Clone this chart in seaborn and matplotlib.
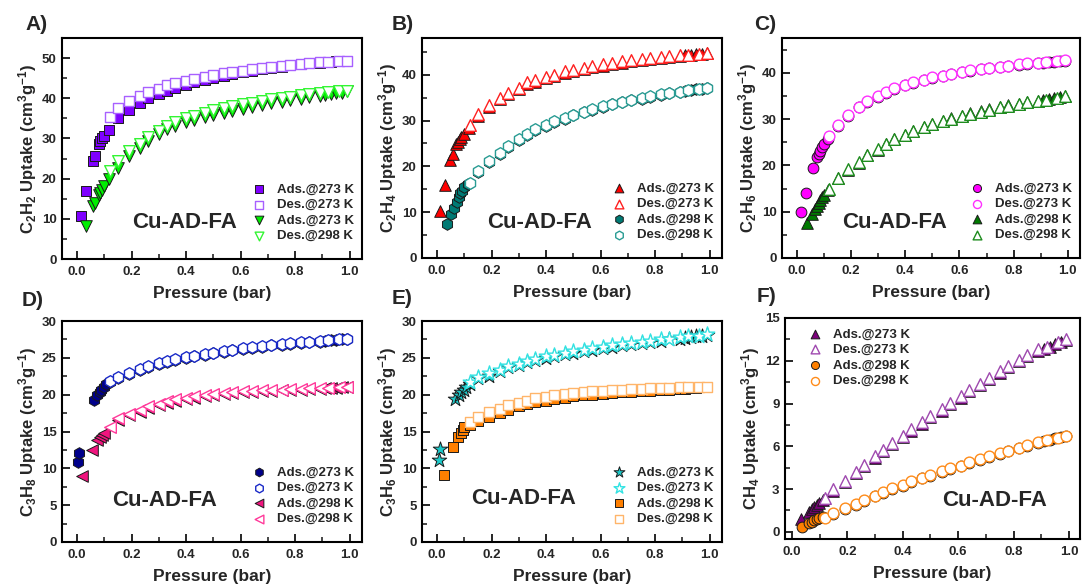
import matplotlib
matplotlib.use("Agg")
import matplotlib.pyplot as plt
import seaborn as sns
from matplotlib.ticker import MultipleLocator

# ---------------- data ----------------
P_MAIN = [0.15, 0.19, 0.23, 0.26, 0.30, 0.33, 0.36, 0.40, 0.43, 0.47, 0.50, 0.54, 0.57, 0.61,
          0.64, 0.68, 0.71, 0.75, 0.78, 0.82, 0.85, 0.89, 0.91, 0.93, 0.95, 0.97, 0.99]
P_DES = [0.12, 0.15, 0.19, 0.23, 0.26, 0.30, 0.33, 0.36, 0.40, 0.43, 0.47, 0.50, 0.54, 0.57,
         0.61, 0.64, 0.68, 0.71, 0.75, 0.78, 0.82, 0.85, 0.89, 0.92, 0.96, 0.99]

# A) C2H2
A_P1_LOW = [0.016, 0.032, 0.059, 0.065, 0.081, 0.086, 0.093, 0.10, 0.117]
A_ADS1 = [10.6, 16.8, 24.3, 25.6, 28.5, 29.3, 30.2, 30.6, 32.2,
          35.0, 37.2, 38.8, 40.0, 41.0, 41.8, 42.6, 43.3, 44.0, 44.6, 45.1, 45.6, 46.0, 46.5,
          46.9, 47.3, 47.6, 47.9, 48.2, 48.5, 48.7, 48.9, 49.0, 49.1, 49.2, 49.3, 49.4]
A_DES1 = [35.3, 37.6, 39.3, 40.5, 41.5, 42.4, 43.2, 43.8, 44.4, 44.9, 45.4, 45.8, 46.2, 46.6,
          46.9, 47.3, 47.6, 47.9, 48.1, 48.4, 48.6, 48.8, 49.0, 49.1, 49.2, 49.4]
A_P2_LOW = [0.032, 0.059, 0.065, 0.081, 0.086, 0.093, 0.10, 0.117]
A_ADS2 = [8.1, 13.1, 13.9, 16.0, 16.4, 17.2, 18.1, 19.8,
          22.7, 25.6, 27.7, 29.4, 31.0, 32.3, 33.2, 34.0, 34.7, 35.3, 35.9, 36.4, 36.9, 37.4,
          37.9, 38.3, 38.7, 39.1, 39.5, 39.9, 40.2, 40.6, 40.8, 41.0, 41.2, 41.4, 41.7]
A_DES2 = [21.8, 24.5, 27.0, 28.7, 30.3, 31.8, 33.0, 34.0, 35.0, 35.7, 36.4, 37.0, 37.5, 38.0,
          38.5, 38.9, 39.3, 39.7, 40.0, 40.4, 40.7, 41.0, 41.3, 41.5, 41.7, 41.9]
A_LABELS = ["Ads.@273 K", "Des.@273 K", "Ads.@273 K", "Des.@298 K"]

# B) C2H4
B_P1_LOW = [0.01, 0.028, 0.049, 0.059, 0.068, 0.077, 0.083, 0.089, 0.10, 0.117]
B_ADS1 = [10.3, 15.9, 21.3, 22.7, 24.8, 25.4, 25.9, 26.4, 27.0, 28.4,
          31.0, 33.0, 34.6, 35.8, 36.9, 37.9, 38.5, 39.2, 39.7, 40.3, 40.7, 41.2, 41.6, 42.0,
          42.3, 42.6, 42.9, 43.2, 43.4, 43.7, 43.9, 44.1, 44.3, 44.4, 44.5, 44.6, 44.7]
B_DES1 = [29.0, 31.4, 33.4, 35.0, 36.1, 37.2, 38.3, 38.8, 39.6, 40.0, 40.7, 41.0, 41.5, 41.9,
          42.3, 42.6, 42.9, 43.2, 43.5, 43.7, 43.9, 44.1, 44.3, 44.4, 44.6, 44.8]
B_P2_LOW = [0.037, 0.053, 0.061, 0.073, 0.081, 0.086, 0.093, 0.10, 0.114]
B_ADS2 = [7.5, 9.7, 11.0, 12.2, 13.3, 14.2, 14.6, 15.5, 16.2,
          18.8, 20.9, 22.8, 24.3, 25.7, 26.9, 27.9, 28.8, 29.6, 30.4, 31.1, 31.8, 32.4, 33.0,
          33.5, 34.0, 34.4, 34.8, 35.2, 35.6, 35.9, 36.2, 36.4, 36.6, 36.8, 36.9, 37.1]
B_DES2 = [16.4, 19.0, 21.1, 23.0, 24.5, 25.9, 27.1, 28.1, 29.0, 29.8, 30.6, 31.3, 31.9, 32.5,
          33.1, 33.6, 34.1, 34.5, 34.9, 35.3, 35.7, 36.0, 36.3, 36.6, 36.9, 37.1]
B_LABELS = ["Ads.@273 K", "Des.@273 K", "Ads.@298 K", "Des.@298 K"]

# C) C2H6
C_P1_LOW = [0.016, 0.032, 0.059, 0.073, 0.081, 0.086, 0.093, 0.10, 0.114]
C_ADS1 = [10.0, 14.1, 19.4, 21.9, 22.4, 23.2, 23.9, 24.6, 25.8,
          28.5, 30.6, 32.5, 33.7, 34.8, 35.7, 36.4, 37.3, 37.8, 38.4, 38.9, 39.3, 39.7, 40.1,
          40.4, 40.7, 41.0, 41.2, 41.4, 41.7, 41.9, 42.1, 42.2, 42.3, 42.4, 42.5, 42.6]
C_DES1 = [26.3, 28.7, 30.8, 32.7, 33.9, 35.0, 35.9, 36.6, 37.4, 37.9, 38.5, 39.0, 39.4, 39.8,
          40.2, 40.5, 40.8, 41.1, 41.3, 41.5, 41.8, 42.0, 42.2, 42.4, 42.5, 42.7]
C_P2_LOW = [0.037, 0.056, 0.065, 0.073, 0.081, 0.086, 0.093, 0.10, 0.114]
C_ADS2 = [7.6, 9.6, 10.5, 11.2, 11.9, 12.5, 13.1, 13.6, 14.7,
          17.2, 19.1, 20.6, 22.2, 23.3, 24.6, 25.6, 26.5, 27.5, 28.2, 28.9, 29.6, 30.2, 30.7,
          31.2, 31.7, 32.1, 32.6, 33.0, 33.3, 33.7, 34.0, 34.2, 34.4, 34.6, 34.8, 35.0]
C_DES2 = [15.0, 17.3, 19.3, 20.8, 22.3, 23.5, 24.7, 25.7, 26.6, 27.5, 28.2, 28.9, 29.5, 30.1,
          30.6, 31.1, 31.6, 32.0, 32.5, 32.9, 33.2, 33.6, 33.9, 34.2, 34.5, 34.9]
C_LABELS = ["Ads.@273 K", "Des.@273 K", "Ads.@298 K", "Des.@298 K"]

# D) C3H8
D_P1_LOW = [0.004, 0.006, 0.061, 0.073, 0.083, 0.088, 0.098, 0.107, 0.12]
D_ADS1 = [10.9, 12.1, 19.3, 19.9, 20.4, 20.7, 21.1, 21.4, 21.7,
          22.2, 22.8, 23.3, 23.8, 24.1, 24.4, 24.7, 25.0, 25.2, 25.4, 25.6, 25.8, 26.0, 26.2,
          26.4, 26.5, 26.7, 26.8, 26.9, 27.0, 27.1, 27.2, 27.3, 27.4, 27.45, 27.5, 27.6]
D_DES1 = [21.9, 22.4, 23.0, 23.5, 23.9, 24.3, 24.6, 24.9, 25.1, 25.3, 25.5, 25.7, 25.9, 26.1,
          26.3, 26.5, 26.6, 26.8, 26.9, 27.0, 27.1, 27.2, 27.3, 27.4, 27.5, 27.6]
D_P2_LOW = [0.018, 0.055, 0.073, 0.083, 0.092, 0.10]
D_ADS2 = [9.0, 12.5, 13.8, 14.2, 14.5, 14.8,
          16.6, 17.2, 17.7, 18.2, 18.6, 18.9, 19.2, 19.4, 19.6, 19.8, 20.0, 20.1, 20.2, 20.3,
          20.4, 20.5, 20.55, 20.6, 20.65, 20.7, 20.75, 20.8, 20.85, 20.9, 20.95, 21.0, 21.0]
D_DES2 = [15.6, 16.8, 17.4, 17.9, 18.4, 18.8, 19.1, 19.4, 19.6, 19.8, 20.0, 20.1, 20.25, 20.35,
          20.45, 20.55, 20.6, 20.65, 20.7, 20.75, 20.8, 20.85, 20.9, 20.95, 21.0, 21.1]
D_LABELS = ["Ads.@273 K", "Des.@273 K", "Ads.@298 K", "Des.@298 K"]

# E) C3H6
E_P1_LOW = [0.006, 0.01, 0.067, 0.079, 0.088, 0.098, 0.107, 0.12]
E_ADS1 = [11.1, 12.6, 19.4, 19.9, 20.4, 20.7, 21.1, 21.5,
          22.2, 22.6, 23.2, 23.7, 24.0, 24.4, 24.7, 25.0, 25.2, 25.5, 25.7, 25.9, 26.1, 26.3,
          26.5, 26.7, 26.9, 27.0, 27.2, 27.3, 27.5, 27.6, 27.7, 27.8, 27.9, 28.0, 28.1]
E_DES1 = [21.7, 22.4, 22.9, 23.4, 23.9, 24.2, 24.6, 24.9, 25.2, 25.4, 25.7, 25.9, 26.1, 26.3,
          26.5, 26.7, 26.9, 27.0, 27.2, 27.3, 27.5, 27.6, 27.8, 27.9, 28.0, 28.2]
E_P2_LOW = [0.024, 0.059, 0.077, 0.088, 0.095, 0.10, 0.12]
E_ADS2 = [9.1, 12.9, 14.3, 14.8, 15.2, 15.6, 15.9,
          16.4, 17.0, 17.5, 17.9, 18.4, 18.7, 19.0, 19.2, 19.4, 19.6, 19.8, 19.9, 20.0, 20.1,
          20.2, 20.3, 20.4, 20.5, 20.55, 20.6, 20.7, 20.75, 20.8, 20.85, 20.9, 21.0, 21.0]
E_DES2 = [16.3, 17.0, 17.6, 18.1, 18.6, 18.9, 19.2, 19.5, 19.7, 19.9, 20.1, 20.2, 20.35, 20.45,
          20.55, 20.6, 20.7, 20.75, 20.8, 20.85, 20.9, 20.95, 21.0, 21.0, 21.05, 21.1]
E_LABELS = ["Ads.@273 K", "Des.@273 K", "Ads.@298 K", "Des.@298 K"]

# F) CH4
F_P1_LOW = [0.032, 0.063, 0.072, 0.08, 0.09, 0.099, 0.111]
F_ADS1 = [0.89, 1.42, 1.59, 1.73, 1.89, 2.0, 2.24,
          2.9, 3.5, 4.1, 4.65, 5.2, 5.65, 6.15, 6.65, 7.1, 7.6, 8.05, 8.5, 8.95, 9.4,
          9.85, 10.3, 10.7, 11.15, 11.55, 11.95, 12.3, 12.7, 12.85, 13.0, 13.15, 13.3, 13.45]
F_DES1 = [2.35, 3.0, 3.6, 4.2, 4.7, 5.3, 5.75, 6.25, 6.75, 7.2, 7.7, 8.15, 8.6, 9.05,
          9.5, 9.95, 10.4, 10.8, 11.25, 11.65, 12.05, 12.4, 12.8, 13.0, 13.3, 13.5]
F_P2_LOW = [0.036, 0.06, 0.072, 0.081, 0.09, 0.099, 0.111]
F_ADS2 = [0.37, 0.61, 0.72, 0.84, 0.89, 0.96, 1.03,
          1.25, 1.6, 1.9, 2.2, 2.5, 2.75, 3.0, 3.25, 3.5, 3.75, 3.95, 4.2, 4.4, 4.6,
          4.85, 5.05, 5.25, 5.45, 5.65, 5.85, 6.05, 6.25, 6.35, 6.45, 6.55, 6.62, 6.7]
F_DES2 = [0.95, 1.3, 1.65, 1.95, 2.25, 2.55, 2.8, 3.05, 3.3, 3.55, 3.8, 4.0, 4.25, 4.45,
          4.65, 4.9, 5.1, 5.3, 5.5, 5.7, 5.9, 6.1, 6.3, 6.45, 6.6, 6.72]
F_LABELS = ["Ads.@273 K", "Des.@273 K", "Ads.@298 K", "Des.@298 K"]

YLABELS = ["C$_2$H$_2$ Uptake (cm$^3$g$^{-1}$)", "C$_2$H$_4$ Uptake (cm$^3$g$^{-1}$)",
           "C$_2$H$_6$ Uptake (cm$^3$g$^{-1}$)", "C$_3$H$_8$ Uptake (cm$^3$g$^{-1}$)",
           "C$_3$H$_6$ Uptake (cm$^3$g$^{-1}$)", "CH$_4$ Uptake (cm$^3$g$^{-1}$)"]
PANEL_LETTERS = ["A)", "B)", "C)", "D)", "E)", "F)"]
XLABEL = "Pressure (bar)"
MATERIAL = "Cu-AD-FA"

# ---------------- style ----------------
sns.set_style("ticks")
plt.rcParams.update({
    "font.family": ["Liberation Sans", "DejaVu Sans"],
    "font.weight": "bold",
    "axes.labelweight": "bold",
    "mathtext.default": "regular",
    "axes.linewidth": 1.5,
    "xtick.direction": "in",
    "ytick.direction": "in",
    "xtick.major.size": 6,
    "ytick.major.size": 6,
    "xtick.minor.size": 3.5,
    "ytick.minor.size": 3.5,
    "xtick.major.width": 1.4,
    "ytick.major.width": 1.4,
    "xtick.minor.width": 1.2,
    "ytick.minor.width": 1.2,
    "xtick.labelsize": 9.5,
    "ytick.labelsize": 9.5,
    "xtick.major.pad": 5,
    "ytick.major.pad": 4,
})

W, H = 1082, 586
fig = plt.figure(figsize=(W / 100, H / 100), dpi=100)


def rect(l, t, r, b):
    return [l / W, (H - b) / H, (r - l) / W, (b - t) / H]


axes = [
    fig.add_axes(rect(62, 38, 362, 259)),
    fig.add_axes(rect(422, 38, 722, 258)),
    fig.add_axes(rect(782, 38, 1080, 258)),
    fig.add_axes(rect(62, 321, 362, 542)),
    fig.add_axes(rect(422, 321, 722, 542)),
    fig.add_axes(rect(785, 318, 1080, 539)),
]

EDGE = "#1a1a1a"


def series(ax, x, y, marker, color, filled, label, size, edge=None):
    if filled:
        sns.scatterplot(x=x, y=y, ax=ax, marker=marker, s=size, color=color,
                        edgecolor=EDGE, linewidth=0.7, label=label, zorder=3)
    else:
        sns.scatterplot(x=x, y=y, ax=ax, marker=marker, s=size, color="white",
                        edgecolor=edge or color, linewidth=1.0, label=label, zorder=4)


panels = [
    dict(p1=A_P1_LOW, a1=A_ADS1, d1=A_DES1, p2=A_P2_LOW, a2=A_ADS2, d2=A_DES2, labels=A_LABELS,
         m1="s", c1="#7F00FF", e1="#A860FF", s1=50, m2="v", c2="#00EE00", e2="#33F533", s2=70,
         ylim=(0, 55), ymaj=10, ymin=5, xlim=(-0.055, 1.045), txt=(0.41, 0.165),
         loc="lower right"),
    dict(p1=B_P1_LOW, a1=B_ADS1, d1=B_DES1, p2=B_P2_LOW, a2=B_ADS2, d2=B_DES2, labels=B_LABELS,
         m1="^", c1="#FF0000", e1="#FF2020", s1=70, m2="h", c2="#007A74", e2="#2A9C94", s2=70,
         ylim=(0, 48), ymaj=10, ymin=5, xlim=(-0.055, 1.045), txt=(0.393, 0.16),
         loc="lower right"),
    dict(p1=C_P1_LOW, a1=C_ADS1, d1=C_DES1, p2=C_P2_LOW, a2=C_ADS2, d2=C_DES2, labels=C_LABELS,
         m1="o", c1="#FF00FF", e1="#FF30FF", s1=60, m2="^", c2="#007A00", e2="#1E8C1E", s2=70,
         ylim=(0, 47.5), ymaj=10, ymin=5, xlim=(-0.055, 1.045), txt=(0.377, 0.16),
         loc="lower right"),
    dict(p1=D_P1_LOW, a1=D_ADS1, d1=D_DES1, p2=D_P2_LOW, a2=D_ADS2, d2=D_DES2, labels=D_LABELS,
         m1="h", c1="#00008B", e1="#1A2AC8", s1=70, m2="<", c2="#F0147E", e2="#FF3A9A", s2=70,
         ylim=(0, 30), ymaj=5, ymin=2.5, xlim=(-0.055, 1.045), txt=(0.343, 0.19),
         loc="lower right"),
    dict(p1=E_P1_LOW, a1=E_ADS1, d1=E_DES1, p2=E_P2_LOW, a2=E_ADS2, d2=E_DES2, labels=E_LABELS,
         m1="*", c1="#1CC9C9", e1="#33E3E3", s1=120, m2="s", c2="#FF7F00", e2="#FFB56A", s2=50,
         ylim=(0, 30), ymaj=5, ymin=2.5, xlim=(-0.055, 1.045), txt=(0.34, 0.195),
         loc="lower right"),
    dict(p1=F_P1_LOW, a1=F_ADS1, d1=F_DES1, p2=F_P2_LOW, a2=F_ADS2, d2=F_DES2, labels=F_LABELS,
         m1="^", c1="#7B007B", e1="#A04AB0", s1=70, m2="o", c2="#FF8000", e2="#FF8C1A", s2=60,
         ylim=(-0.5, 15), ymaj=3, ymin=1.5, xlim=(-0.025, 1.04), txt=(0.71, 0.172),
         loc="upper left"),
]

for i, (ax, pd_) in enumerate(zip(axes, panels)):
    lab = pd_["labels"]
    series(ax, pd_["p1"] + P_MAIN, pd_["a1"], pd_["m1"], pd_["c1"], True, lab[0], pd_["s1"])
    series(ax, P_DES, pd_["d1"], pd_["m1"], pd_["c1"], False, lab[1], pd_["s1"], pd_["e1"])
    series(ax, pd_["p2"] + P_MAIN, pd_["a2"], pd_["m2"], pd_["c2"], True, lab[2], pd_["s2"])
    series(ax, P_DES, pd_["d2"], pd_["m2"], pd_["c2"], False, lab[3], pd_["s2"], pd_["e2"])

    ax.set_xlim(*pd_["xlim"])
    ax.set_ylim(*pd_["ylim"])
    ax.xaxis.set_major_locator(MultipleLocator(0.2))
    ax.xaxis.set_minor_locator(MultipleLocator(0.1))
    ax.yaxis.set_major_locator(MultipleLocator(pd_["ymaj"]))
    ax.yaxis.set_minor_locator(MultipleLocator(pd_["ymin"]))
    ax.tick_params(which="both", top=False, right=False)
    ax.set_xticks([0.0, 0.2, 0.4, 0.6, 0.8, 1.0])
    ax.set_xticklabels(["0.0", "0.2", "0.4", "0.6", "0.8", "1.0"])
    for sp in ax.spines.values():
        sp.set_visible(True)
        sp.set_linewidth(1.5)
        sp.set_color("black")

    ax.set_xlabel(XLABEL, fontsize=12.5, fontweight="bold", labelpad=6)
    ax.set_ylabel(YLABELS[i], fontsize=12, fontweight="bold", labelpad=2)
    ax.text(pd_["txt"][0], pd_["txt"][1], MATERIAL, transform=ax.transAxes, fontsize=16,
            fontweight="bold", ha="center", va="center")

    if pd_["loc"] == "upper left":
        ax.legend(loc="upper left", bbox_to_anchor=(0.03, 0.99), frameon=False,
                  prop={"weight": "bold", "size": 9.5}, markerscale=0.75,
                  handletextpad=0.4, labelspacing=0.25, borderaxespad=0.2)
    else:
        ax.legend(loc="lower right", bbox_to_anchor=(1.0, 0.04), frameon=False,
                  prop={"weight": "bold", "size": 9.5}, markerscale=0.75,
                  handletextpad=0.4, labelspacing=0.25, borderaxespad=0.2)

letter_pos = [(37, 25), (403, 25), (765, 25), (33, 300), (402, 298), (767, 297)]
for (lx, ly), letter in zip(letter_pos, PANEL_LETTERS):
    fig.text(lx / W, 1 - ly / H, letter, fontsize=15, fontweight="bold", ha="center", va="center")

fig.savefig("out.png", dpi=100)
